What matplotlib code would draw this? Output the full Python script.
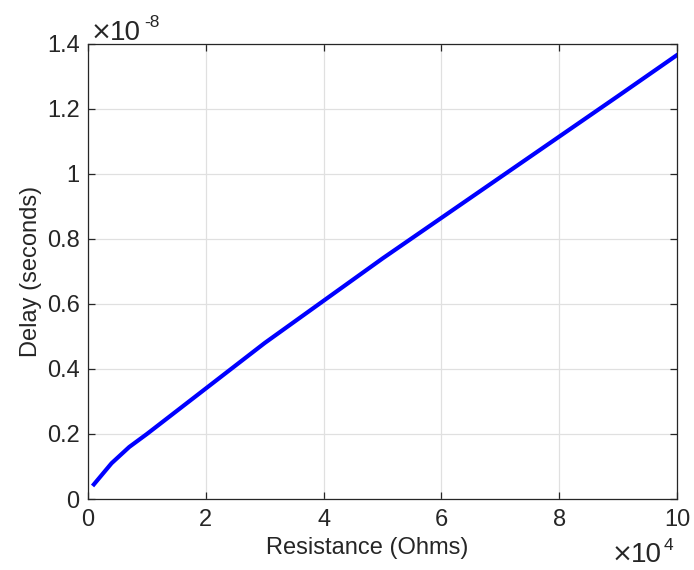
import matplotlib
matplotlib.use('Agg')
import matplotlib.pyplot as plt
from matplotlib.ticker import FuncFormatter

plt.rcParams['font.family'] = ['Liberation Sans', 'DejaVu Sans']

# resistance (Ohms) and delay (seconds)
resistance = [1000, 4000, 7000, 10000, 15000, 20000, 30000, 40000, 50000,
              60000, 70000, 80000, 90000, 100000]
delay = [0.045e-8, 0.11e-8, 0.16e-8, 0.20e-8, 0.27e-8, 0.34e-8, 0.48e-8,
         0.61e-8, 0.74e-8, 0.865e-8, 0.99e-8, 1.115e-8, 1.24e-8, 1.366e-8]

xticks = [0, 2e4, 4e4, 6e4, 8e4, 10e4]
yticks = [0, 0.2e-8, 0.4e-8, 0.6e-8, 0.8e-8, 1.0e-8, 1.2e-8, 1.4e-8]

W, H = 694, 570
fig = plt.figure(figsize=(W / 100, H / 100), dpi=100)
ax = fig.add_axes([88 / W, 1 - 499 / H, 589 / W, 455 / H])

ax.plot(resistance, delay, color='#0000ff', linewidth=3)

ax.set_xlim(0, 10e4)
ax.set_ylim(0, 1.4e-8)
ax.set_xticks(xticks)
ax.set_yticks(yticks)
ax.xaxis.set_major_formatter(FuncFormatter(lambda v, p: f'{v / 1e4:g}'))
ax.yaxis.set_major_formatter(FuncFormatter(lambda v, p: f'{v / 1e-8:g}'))

ax.grid(True, color='#e0e0e0', linewidth=0.9)
ax.set_axisbelow(True)
for s in ax.spines.values():
    s.set_color('#262626')
    s.set_linewidth(0.9)
ax.tick_params(direction='in', length=5, width=0.9, color='#262626',
               labelsize=17, labelcolor='#262626', top=True, right=True)
ax.tick_params(axis='x', pad=7)
ax.tick_params(axis='y', pad=6)

ax.set_xlabel('Resistance (Ohms)', fontsize=17, color='#262626')
ax.set_ylabel('Delay (seconds)', fontsize=17, color='#262626')
ax.xaxis.set_label_coords(0.474, -0.084)
ax.yaxis.set_label_coords(-0.078, 0.5)

# exponent labels, MATLAB style
def pix(x, y):
    return x / W, 1 - y / H

ink = '#262626'
fig.text(*pix(91, 40), '×', fontsize=18, color=ink, va='baseline', family='DejaVu Sans')
fig.text(*pix(110, 40), '10', fontsize=20, color=ink, va='baseline')
fig.text(*pix(144, 27), '-8', fontsize=12.5, color=ink, va='baseline')
fig.text(*pix(612, 562), '×', fontsize=18, color=ink, va='baseline', family='DejaVu Sans')
fig.text(*pix(631, 562), '10', fontsize=20, color=ink, va='baseline')
fig.text(*pix(664, 550), '4', fontsize=12.5, color=ink, va='baseline')

fig.savefig('out.png', dpi=100)
